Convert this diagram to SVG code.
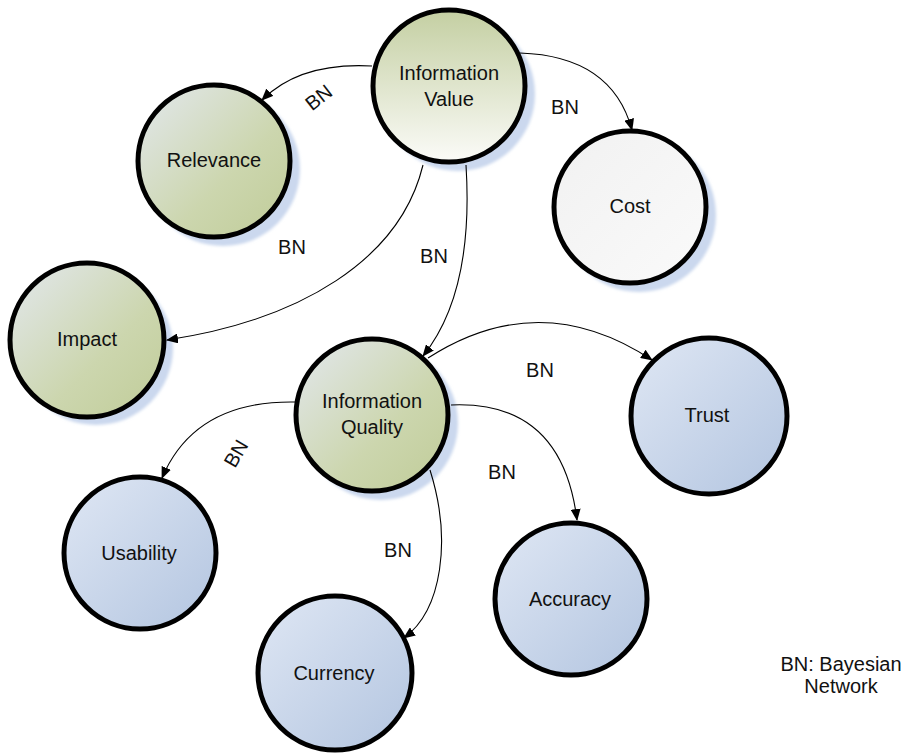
<svg xmlns="http://www.w3.org/2000/svg" width="910" height="753" viewBox="0 0 910 753">
<defs>
<style>
.node{stroke:#000;stroke-width:5}
.shadow{fill:#cbd8ee}
.lbl{font-family:"Liberation Sans",Arial,sans-serif;font-size:20px;fill:#111;text-anchor:middle}
.bn{font-family:"Liberation Sans",Arial,sans-serif;font-size:20px;fill:#111;text-anchor:middle}
.edge{fill:none;stroke:#000;stroke-width:1.1;marker-end:url(#arr)}
</style>
<marker id="arr" markerUnits="userSpaceOnUse" markerWidth="12" markerHeight="10" refX="11" refY="5" orient="auto">
<path d="M0,0 L12,5 L0,10 Z" fill="#000"/>
</marker>
<filter id="blur" x="-20%" y="-20%" width="140%" height="140%"><feGaussianBlur stdDeviation="1.5"/></filter>
<linearGradient id="green" x1="0" y1="0" x2="1" y2="1">
<stop offset="0" stop-color="#e3e8ee"/><stop offset="0.6" stop-color="#ccd6ae"/><stop offset="1" stop-color="#c0cc98"/>
</linearGradient>
<linearGradient id="iv" x1="0" y1="0" x2="0" y2="1">
<stop offset="0" stop-color="#c4cfa2"/><stop offset="1" stop-color="#fbfbf8"/>
</linearGradient>
<linearGradient id="white" x1="0" y1="0" x2="1" y2="1">
<stop offset="0" stop-color="#f1f1f1"/><stop offset="1" stop-color="#fafafa"/>
</linearGradient>
<linearGradient id="blue" x1="0" y1="0" x2="1" y2="1">
<stop offset="0" stop-color="#dfe7f4"/><stop offset="1" stop-color="#b3c5e0"/>
</linearGradient>
</defs>
<rect width="910" height="753" fill="#fff"/>

<g id="information-value">
<circle class="shadow" cx="458" cy="94" r="77" filter="url(#blur)"/>
<circle class="node" cx="449" cy="86" r="76" fill="url(#iv)"/>
<text class="lbl" x="449" y="80">Information</text>
<text class="lbl" x="449" y="106">Value</text>
</g>
<g id="relevance">
<circle class="shadow" cx="223" cy="169" r="77" filter="url(#blur)"/>
<circle class="node" cx="214" cy="161" r="76" fill="url(#green)"/>
<text class="lbl" x="214" y="167">Relevance</text>
</g>
<g id="cost">
<circle class="shadow" cx="639" cy="215" r="77" filter="url(#blur)"/>
<circle class="node" cx="630" cy="207" r="76" fill="url(#white)"/>
<text class="lbl" x="630" y="213">Cost</text>
</g>
<g id="impact">
<circle class="shadow" cx="96" cy="348" r="77" filter="url(#blur)"/>
<circle class="node" cx="87" cy="340" r="77" fill="url(#green)"/>
<text class="lbl" x="87" y="346">Impact</text>
</g>
<g id="information-quality">
<circle class="shadow" cx="381" cy="423" r="77" filter="url(#blur)"/>
<circle class="node" cx="372" cy="415" r="76" fill="url(#green)"/>
<text class="lbl" x="372" y="408">Information</text>
<text class="lbl" x="372" y="434">Quality</text>
</g>
<g id="trust">
<circle class="node" cx="709" cy="416" r="78" fill="url(#blue)"/>
<text class="lbl" x="707" y="422">Trust</text>
</g>
<g id="usability">
<circle class="node" cx="140" cy="553" r="76" fill="url(#blue)"/>
<text class="lbl" x="139" y="560">Usability</text>
</g>
<g id="currency">
<circle class="node" cx="335" cy="673" r="77" fill="url(#blue)"/>
<text class="lbl" x="334" y="680">Currency</text>
</g>
<g id="accuracy">
<circle class="node" cx="571" cy="599" r="76" fill="url(#blue)"/>
<text class="lbl" x="570" y="606">Accuracy</text>
</g>

<g id="connectors">
<path class="edge" d="M372,66 Q300,62 262,100"/>
<path class="edge" d="M520,53 Q612,56 632,130"/>
<path class="edge" d="M423,165 C400,260 300,320 167,340"/>
<path class="edge" d="M466,165 C472,260 452,320 423,356"/>
<path class="edge" d="M428,358 Q540,286 652,360"/>
<path class="edge" d="M296,402 Q195,400 162,478"/>
<path class="edge" d="M451,405 Q562,400 577,520"/>
<path class="edge" d="M430,470 C452,540 442,610 404,638"/>
<text class="bn" transform="translate(323,103) rotate(-38)">BN</text>
<text class="bn" x="565" y="114">BN</text>
<text class="bn" x="292" y="254">BN</text>
<text class="bn" x="434" y="263">BN</text>
<text class="bn" x="540" y="377">BN</text>
<text class="bn" transform="translate(242,457) rotate(-60)">BN</text>
<text class="bn" x="502" y="479">BN</text>
<text class="bn" x="398" y="557">BN</text>
</g>

<g id="legend">
<text class="lbl" x="841" y="671">BN: Bayesian</text>
<text class="lbl" x="841" y="693">Network</text>
</g>
</svg>
